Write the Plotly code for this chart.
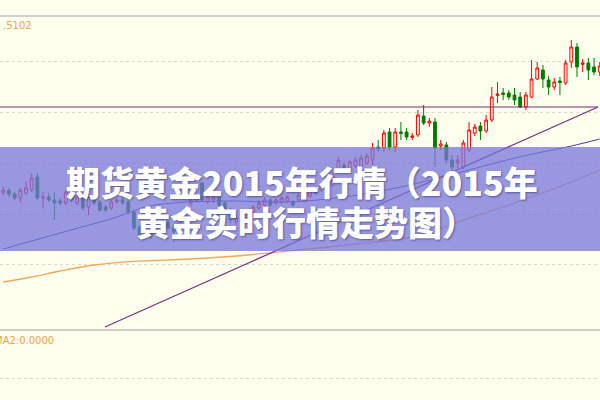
import plotly.graph_objects as go

# ---- data (price units) ----
idx = list(range(106))
opens = [1143.8,1144.7,1143.0,1141.0,1143.5,1145.0,1151.5,1141.0,1141.5,1140.0,
         1139.5,1138.5,1143.5,1138.5,1141.0,1136.5,1142.5,1139.0,1136.5,1136.0,
         1139.0,1140.0,1139.0,1134.0,1126.5,1122.5,1125.0,1123.5,1125.0,1129.0,
         1126.5,1126.0,1130.0,1138.5,1140.0,1148.5,1139.0,1140.0,1141.5,1138.5,
         1135.0,1129.0,1129.5,1131.0,1133.5,1136.0,1137.5,1140.0,1138.5,1139.0,
         1139.5,1139.0,1140.0,1141.0,1142.0,1146.0,1145.0,1146.0,1147.5,1155.0,
         1157.5,1155.0,1157.0,1157.0,1158.5,1160.0,1166.5,1166.0,1174.0,1166.5,
         1174.0,1174.0,1171.3,1172.5,1182.0,1178.5,1179.0,1167.0,1167.5,1160.0,
         1158.5,1156.5,1165.0,1173.5,1177.0,1174.5,1180.0,1192.3,1193.5,1193.5,
         1192.5,1191.5,1186.5,1191.5,1200.5,1205.0,1200.0,1196.5,1199.5,1198.5,
         1209.0,1216.5,1207.8,1208.5,1206.5,1204.0]
highs = [1146.5,1146.0,1144.0,1146.0,1149.5,1153.5,1153.5,1144.0,1143.5,1144.0,
         1141.0,1145.0,1144.5,1142.5,1142.0,1142.5,1144.0,1140.0,1137.5,1140.0,
         1141.0,1141.5,1140.0,1135.0,1127.5,1126.5,1126.0,1127.5,1129.0,1130.0,
         1128.0,1131.0,1136.5,1141.5,1143.0,1149.0,1142.5,1142.5,1142.5,1139.5,
         1136.0,1132.5,1133.0,1135.0,1137.5,1140.0,1141.5,1141.0,1141.0,1142.0,
         1142.5,1140.0,1143.5,1144.5,1146.0,1147.0,1149.0,1151.0,1154.0,1161.5,
         1159.0,1160.0,1161.5,1162.5,1163.5,1168.5,1170.0,1175.0,1176.0,1176.0,
         1179.0,1176.0,1173.5,1185.0,1187.5,1181.0,1181.0,1170.0,1169.0,1162.5,
         1162.5,1170.0,1179.0,1178.0,1179.0,1182.5,1196.5,1199.0,1196.0,1195.0,
         1196.0,1194.0,1194.0,1210.0,1209.0,1207.5,1202.0,1201.0,1201.5,1210.0,
         1220.0,1218.5,1210.5,1211.0,1211.0,1209.0]
lows = [1142.5,1141.5,1140.0,1138.5,1142.5,1144.0,1140.0,1136.0,1139.0,1130.0,
        1137.5,1137.5,1139.0,1137.5,1135.0,1132.5,1137.5,1134.0,1134.0,1135.0,
        1138.5,1137.5,1133.0,1125.0,1120.0,1121.0,1120.5,1122.0,1124.0,1125.0,
        1119.0,1125.0,1129.0,1137.0,1139.0,1139.0,1138.0,1138.5,1136.5,1133.0,
        1128.5,1127.5,1128.0,1130.0,1132.5,1135.0,1136.5,1136.5,1137.5,1138.0,
        1138.5,1136.5,1139.0,1140.0,1141.0,1142.5,1144.0,1145.0,1146.5,1154.0,
        1154.0,1154.0,1156.0,1156.0,1157.5,1157.5,1164.0,1164.0,1165.0,1164.0,
        1170.0,1170.0,1170.0,1171.5,1177.5,1176.5,1156.5,1165.0,1158.5,1154.0,
        1156.0,1155.5,1164.0,1172.0,1170.0,1173.5,1179.0,1188.5,1190.0,1190.0,
        1187.5,1186.0,1185.0,1191.0,1200.0,1196.0,1192.5,1195.0,1192.5,1197.5,
        1206.0,1201.5,1204.0,1200.0,1202.5,1202.0]
closes = [1145.0,1143.0,1141.0,1145.0,1146.0,1151.0,1141.0,1141.5,1140.0,1138.5,
          1138.5,1144.0,1140.0,1141.5,1136.0,1141.5,1138.5,1135.0,1135.0,1139.0,
          1140.0,1138.5,1134.0,1126.0,1121.5,1125.0,1122.0,1126.0,1127.5,1126.0,
          1124.0,1130.0,1135.0,1140.0,1141.5,1140.0,1141.5,1141.5,1137.5,1134.0,
          1130.0,1131.0,1131.5,1134.0,1136.5,1138.5,1140.0,1137.5,1140.0,1141.0,
          1141.5,1137.5,1142.5,1143.5,1145.0,1143.5,1147.5,1150.0,1152.5,1160.0,
          1155.0,1159.0,1160.0,1161.0,1162.0,1166.0,1165.5,1173.5,1166.5,1174.0,
          1173.3,1171.5,1172.0,1182.5,1178.5,1179.5,1166.0,1168.0,1160.0,1156.5,
          1160.0,1168.5,1175.0,1176.5,1174.5,1180.0,1191.5,1193.0,1192.8,1191.5,
          1190.0,1186.5,1192.5,1200.5,1206.0,1200.5,1196.5,1199.0,1198.8,1208.5,
          1216.5,1206.5,1208.5,1205.0,1204.0,1207.0]

ma_blue_x = [0, 10, 20, 25, 30, 40, 50, 60, 70, 80, 90, 100, 105]
ma_blue_y = [1115.5, 1123.5, 1131.5, 1136.5, 1138.5, 1139.5, 1139.0, 1141.5,
             1146.5, 1153.5, 1161.0, 1167.0, 1170.5]
ma_orange_x = [0, 5, 10, 16, 23, 33, 41, 52, 62, 73, 80, 90, 100, 105]
ma_orange_y = [1099.0, 1101.5, 1104.5, 1107.5, 1109.3, 1110.5, 1112.0, 1115.0,
               1118.0, 1122.0, 1129.0, 1138.5, 1149.0, 1155.0]

trend_x = [17.9, 104.7]
trend_y = [1076.5, 1186.5]
level_x = [-0.6, 104.7]
level_y = [1186.5, 1186.5]

border_levels = [1232.0, 1075.0]
grid_levels = [1209.5, 1184.0, 1158.5, 1133.0, 1108.0, 1051.0]

price_label = ".5102"
ma_label = "MA2:0.0000"
title_line1 = "期货黄金2015年行情（2015年"
title_line2 = "黄金实时行情走势图）"

BG = "#FFFFEE"

fig = go.Figure()

fig.add_trace(go.Candlestick(
    x=idx, open=opens, high=highs, low=lows, close=closes,
    increasing=dict(line=dict(color="#FF0000", width=1), fillcolor=BG),
    decreasing=dict(line=dict(color="#007A00", width=1), fillcolor="#007A00"),
    whiskerwidth=0, hoverinfo="skip", showlegend=False))

fig.add_trace(go.Scatter(x=ma_blue_x, y=ma_blue_y, mode="lines",
                         line=dict(color="#3F3F9F", width=1, shape="spline"),
                         hoverinfo="skip", showlegend=False))
fig.add_trace(go.Scatter(x=ma_orange_x, y=ma_orange_y, mode="lines",
                         line=dict(color="#F2A65A", width=1.3, shape="spline"),
                         hoverinfo="skip", showlegend=False))
fig.add_trace(go.Scatter(x=trend_x, y=trend_y, mode="lines",
                         line=dict(color="#7B2B7B", width=1.2),
                         hoverinfo="skip", showlegend=False))
fig.add_trace(go.Scatter(x=level_x, y=level_y, mode="lines",
                         line=dict(color="#7B2B7B", width=1.2),
                         hoverinfo="skip", showlegend=False))

for lv in border_levels:
    fig.add_hline(y=lv, line=dict(color="#BFBFBF", width=1.5), layer="below")

# translucent banner
fig.add_shape(type="rect", xref="paper", yref="paper", x0=0, x1=1,
              y0=0.3725, y1=0.6325, fillcolor="rgba(120,118,219,0.76)",
              line=dict(width=0), layer="above")

shadow = "1px 1px 2px rgba(40,40,90,0.55)"
fig.add_annotation(xref="paper", yref="paper", x=0.503, y=0.545, text=title_line1,
                   showarrow=False, xanchor="center", yanchor="middle",
                   font=dict(family="Noto Sans CJK SC", size=34, color="white",
                             weight=900, shadow=shadow))
fig.add_annotation(xref="paper", yref="paper", x=0.51, y=0.445, text=title_line2,
                   showarrow=False, xanchor="center", yanchor="middle",
                   font=dict(family="Noto Sans CJK SC", size=34, color="white",
                             weight=900, shadow=shadow))

fig.add_annotation(xref="paper", yref="paper", x=0.002, y=0.935, text=price_label,
                   showarrow=False, xanchor="left", yanchor="middle",
                   font=dict(family="DejaVu Sans", size=10, color="#F0A050"))
fig.add_annotation(xref="paper", yref="paper", x=56 / 600, y=0.15, text=ma_label,
                   showarrow=False, xanchor="right", yanchor="middle",
                   font=dict(family="DejaVu Sans", size=10, color="#F0A050"))

fig.update_layout(
    width=600, height=400, margin=dict(l=0, r=0, t=0, b=0),
    paper_bgcolor=BG, plot_bgcolor=BG, hovermode=False,
    xaxis=dict(range=[-0.58, 105.05], showgrid=False, zeroline=False,
               showticklabels=False, rangeslider=dict(visible=False), fixedrange=True),
    yaxis=dict(range=[1040, 1240], tickvals=grid_levels, showticklabels=False,
               showgrid=True, gridcolor="#D9D9D0", griddash="dot", gridwidth=1,
               zeroline=False, fixedrange=True),
)

fig.write_html("out.html", config={"displayModeBar": False},
               post_script="document.body.style.margin='0px';document.body.style.background='#FFFFEE';")
